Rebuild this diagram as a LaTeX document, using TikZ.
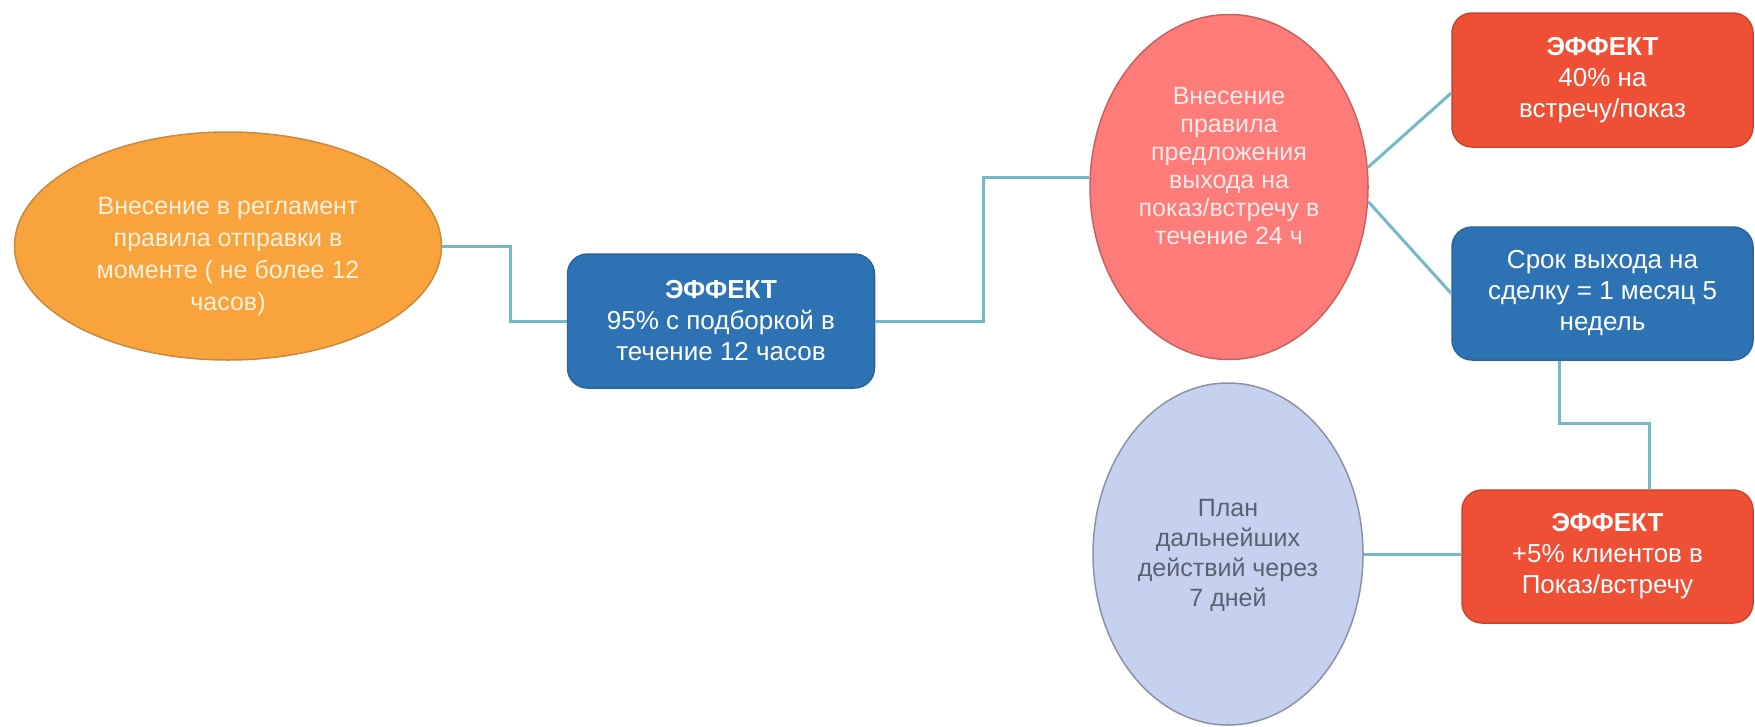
\documentclass[tikz,border=0pt]{standalone}
\usepackage{fontspec}
\setmainfont{Liberation Sans}
\usetikzlibrary{shapes.geometric}
\definecolor{corange}{HTML}{F9A33C}
\definecolor{corangeD}{HTML}{C98A3E}
\definecolor{cotext}{HTML}{FDF1DE}
\definecolor{cblue}{HTML}{2D73B4}
\definecolor{cblueD}{HTML}{2A659E}
\definecolor{csalmon}{HTML}{FD7C7A}
\definecolor{csalmonD}{HTML}{C8625F}
\definecolor{cstext}{HTML}{FCEAE8}
\definecolor{cred}{HTML}{EF4F35}
\definecolor{credD}{HTML}{C9432F}
\definecolor{clav}{HTML}{C6D1EF}
\definecolor{clavD}{HTML}{8A93A6}
\definecolor{cltext}{HTML}{5A6170}
\definecolor{cline}{HTML}{74B9C6}
\begin{document}
\begin{tikzpicture}[x=1pt,y=-1pt,
  ell/.style={ellipse,inner sep=0pt,line width=1.5pt},
  txt/.style={align=center,font=\fontsize{25}{28}\selectfont},
  box/.style={rectangle,rounded corners=20pt,inner sep=0pt,line width=1.5pt,
    align=center,text=white,font=\fontsize{26}{31}\selectfont},
  conn/.style={draw=cline,line width=3pt}]
\fill[white] (0,0) rectangle (1755,726);
\useasboundingbox (0,0) rectangle (1755,726);

% nodes
\node[ell,fill=corange,draw=corangeD,minimum width=427pt,minimum height=228pt] (or) at (228,246) {};
\node[txt,text=cotext,font=\fontsize{25}{32}\selectfont] (ort) at (228,256) {Внесение в регламент\\правила отправки в\\моменте ( не более 12\\часов)};

\node[box,fill=cblue,draw=cblueD,minimum width=307pt,minimum height=134pt] (b1) at (721,321)
  {\textbf{ЭФФЕКТ}\\95\% с подборкой в\\течение 12 часов};

\node[ell,fill=csalmon,draw=csalmonD,minimum width=278pt,minimum height=345pt] (red) at (1229,187) {};
\node[txt,text=cstext] (redt) at (1229,166) {Внесение\\правила\\предложения\\выхода на\\показ/встречу в\\течение 24 ч};

\node[box,fill=cred,draw=credD,minimum width=301pt,minimum height=134pt] (rtop) at (1602.5,80)
  {\textbf{ЭФФЕКТ}\\40\% на\\встречу/показ};

\node[box,fill=cblue,draw=cblueD,minimum width=301pt,minimum height=133pt] (b2) at (1602.5,293.5)
  {Срок выхода на\\сделку = 1 месяц 5\\недель};

\node[box,fill=cred,draw=credD,minimum width=291pt,minimum height=133pt] (rbot) at (1607.5,556.5)
  {\textbf{ЭФФЕКТ}\\+5\% клиентов в\\Показ/встречу};

\node[ell,fill=clav,draw=clavD,minimum width=270pt,minimum height=342pt] (lav) at (1228,554) {};
\node[txt,text=cltext,font=\fontsize{25}{30}\selectfont] (lavt) at (1228,555) {План\\дальнейших\\действий через\\7 дней};

% connectors
\draw[conn] (or.east) -- ++(68,0) |- (b1.west);
\draw[conn] (b1.east) -- ++(108,0) |- ([yshift=10pt]red.west);
\draw[conn] (red.8) -- ([yshift=-13pt]rtop.west);
\draw[conn] (red.-6) -- (b2.west);
\draw[conn] ([xshift=-43pt]b2.south) -- ++(0,63) -| ([xshift=42pt]rbot.north);
\draw[conn] (lav.east) -- (lav.east -| rbot.west);
\end{tikzpicture}
\end{document}
